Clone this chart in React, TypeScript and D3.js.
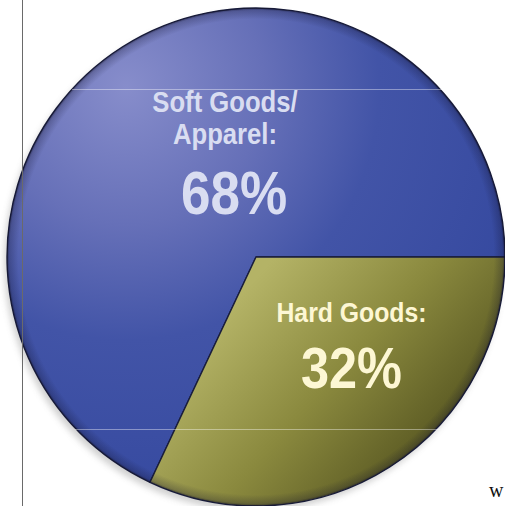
import * as d3 from 'd3'
import { useEffect, useRef } from 'react'

const categories = ['Soft Goods/Apparel', 'Hard Goods']
const values = [68, 32]
const labelLines = [['Soft Goods/', 'Apparel:'], ['Hard Goods:']]
const percentLabels = ['68%', '32%']

const W = 505
const H = 506

const App = () => {
  const ref = useRef<SVGSVGElement>(null)

  useEffect(() => {
    const svg = d3.select(ref.current)
    svg.selectAll('*').remove()

    const cx = 256
    const cy = 257
    const r = 249

    const defs = svg.append('defs')

    const blue = defs
      .append('radialGradient')
      .attr('id', 'blueGrad')
      .attr('gradientUnits', 'userSpaceOnUse')
      .attr('cx', -130)
      .attr('cy', -170)
      .attr('r', 460)
    blue.append('stop').attr('offset', 0).attr('stop-color', '#878dcb')
    blue.append('stop').attr('offset', 0.3).attr('stop-color', '#6670b8')
    blue.append('stop').attr('offset', 0.55).attr('stop-color', '#4254a7')
    blue.append('stop').attr('offset', 1).attr('stop-color', '#33479e')

    const olive = defs
      .append('linearGradient')
      .attr('id', 'oliveGrad')
      .attr('gradientUnits', 'userSpaceOnUse')
      .attr('x1', 10)
      .attr('y1', 10)
      .attr('x2', 215)
      .attr('y2', 195)
    olive.append('stop').attr('offset', 0).attr('stop-color', '#b4b366')
    olive.append('stop').attr('offset', 0.45).attr('stop-color', '#8a893e')
    olive.append('stop').attr('offset', 1).attr('stop-color', '#4d4c1b')

    const rim = defs
      .append('radialGradient')
      .attr('id', 'rimGrad')
      .attr('gradientUnits', 'userSpaceOnUse')
      .attr('cx', 0)
      .attr('cy', 0)
      .attr('r', r)
    rim.append('stop').attr('offset', 0.955).attr('stop-color', '#10102a').attr('stop-opacity', 0)
    rim.append('stop').attr('offset', 0.99).attr('stop-color', '#10102a').attr('stop-opacity', 0.25)
    rim.append('stop').attr('offset', 1).attr('stop-color', '#10102a').attr('stop-opacity', 0.6)

    defs
      .append('filter')
      .attr('id', 'blur')
      .attr('x', '-20%')
      .attr('y', '-20%')
      .attr('width', '140%')
      .attr('height', '140%')
      .append('feGaussianBlur')
      .attr('stdDeviation', 3)

    svg.append('rect').attr('width', W).attr('height', H).attr('fill', '#ffffff')

    // soft shadow under the pie
    svg
      .append('circle')
      .attr('cx', cx - 3)
      .attr('cy', cy + 5)
      .attr('r', r)
      .attr('fill', '#9a9a9a')
      .attr('opacity', 0.45)
      .attr('filter', 'url(#blur)')

    const total = d3.sum(values)
    const start = Math.PI / 2 + (2 * Math.PI * values[1]) / total
    const pie = d3
      .pie<number>()
      .sort(null)
      .startAngle(start)
      .endAngle(start + 2 * Math.PI)
    const arcs = pie(values)
    const arc = d3.arc<d3.PieArcDatum<number>>().innerRadius(0).outerRadius(r)

    const g = svg.append('g').attr('transform', `translate(${cx},${cy})`)

    g.selectAll('path.slice')
      .data(arcs)
      .join('path')
      .attr('class', 'slice')
      .attr('d', arc)
      .attr('fill', (_d, i) => (i === 0 ? 'url(#blueGrad)' : 'url(#oliveGrad)'))
      .attr('stroke', '#1a1e3c')
      .attr('stroke-width', 1.4)
      .attr('stroke-linejoin', 'round')

    g.append('circle').attr('r', r).attr('fill', 'url(#rimGrad)')

    // faint guide lines across the pie
    ;[
      [72, 446, 89],
      [75, 440, 429],
    ].forEach(([x1, x2, y]) => {
      svg
        .append('line')
        .attr('x1', x1)
        .attr('x2', x2)
        .attr('y1', y + 0.5)
        .attr('y2', y + 0.5)
        .attr('stroke', '#ffffff')
        .attr('stroke-opacity', 0.4)
        .attr('stroke-width', 1)
    })

    // left rule
    svg
      .append('line')
      .attr('x1', 22.5)
      .attr('x2', 22.5)
      .attr('y1', 0)
      .attr('y2', H)
      .attr('stroke', '#6a6a6a')
      .attr('stroke-width', 1)

    const font = "'Liberation Sans', Arial, sans-serif"
    const squeeze = 0.87
    const labelPos = [
      { x: 225, y: 112, lineH: 32, pctX: 234, pctY: 214, size: 29.5, pctSize: 61, color: '#d9ddf1' },
      { x: 351.5, y: 322, lineH: 32, pctX: 351.5, pctY: 388, size: 28.5, pctSize: 58, color: '#fdf7d4' },
    ]

    const addText = (t: string, x: number, y: number, size: number, color: string) =>
      svg
        .append('text')
        .attr('transform', `translate(${x},${y}) scale(${squeeze},1)`)
        .attr('text-anchor', 'middle')
        .attr('font-family', font)
        .attr('font-weight', 'bold')
        .attr('font-size', size)
        .attr('fill', color)
        .text(t)

    categories.forEach((_c, i) => {
      const p = labelPos[i]
      labelLines[i].forEach((line, j) => addText(line, p.x, p.y + j * p.lineH, p.size, p.color))
      addText(percentLabels[i], p.pctX, p.pctY, p.pctSize, p.color)
    })

    svg
      .append('text')
      .attr('x', 489)
      .attr('y', 497)
      .attr('font-family', "'Liberation Serif', serif")
      .attr('font-size', 20)
      .attr('fill', '#111')
      .text('w')
  }, [])

  return (
    <svg
      ref={ref}
      width={W}
      height={H}
      style={{ position: 'absolute', left: 0, top: 0, display: 'block' }}
    />
  )
}

export default App
